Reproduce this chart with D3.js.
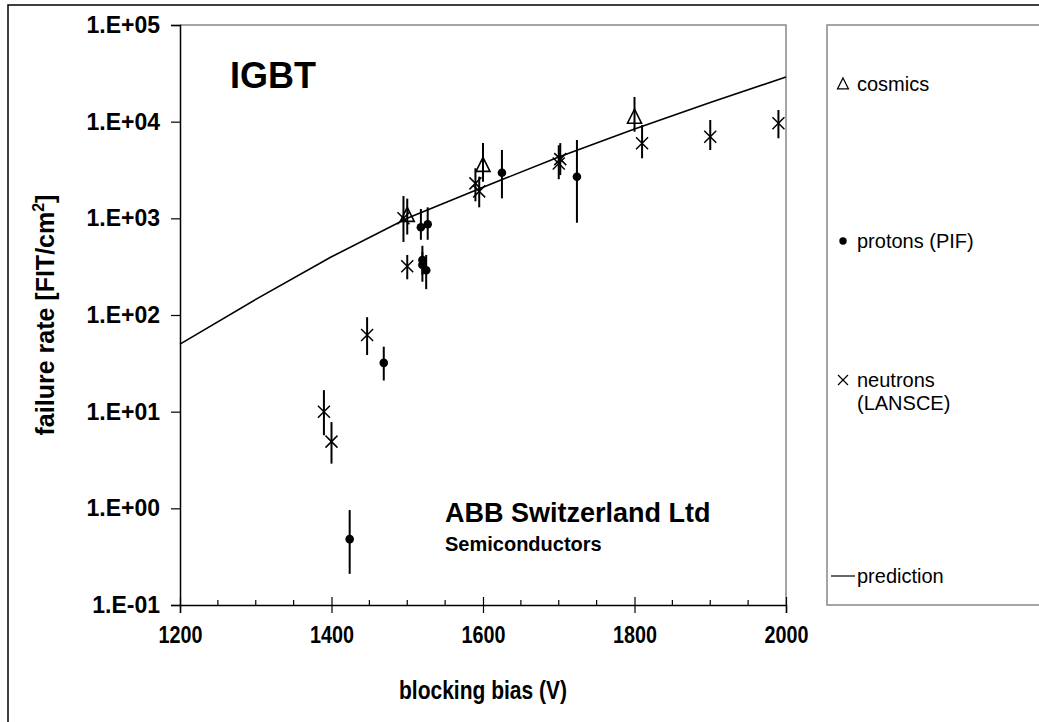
<!DOCTYPE html>
<html>
<head>
<meta charset="utf-8">
<script src="https://cdn.jsdelivr.net/npm/d3@7"></script>
<style>
  body { margin: 0; background: #fff; }
  text { font-family: "Liberation Sans", Arial, sans-serif; }
</style>
</head>
<body>
<div id="chart"></div>
<script>
// prediction curve
const predV = [1200, 1300, 1400, 1500, 1600, 1700, 1800, 1900, 2000];
const predRate = [50, 145, 400, 1000, 2100, 4300, 8400, 15800, 29000];

// cosmics
const cosV = [1500, 1600, 1800];
const cosRate = [1080, 3560, 11200];
const cosHi = [1600, 6000, 18000];
const cosLo = [680, 2390, 7870];

// protons (PIF)
const proV = [1424, 1469, 1518, 1520, 1520, 1525, 1527, 1625, 1724];
const proRate = [0.48, 32, 810, 370, 330, 290, 870, 2960, 2690];
const proHi = [0.96, 47, 1250, 520, 450, 418, 1300, 5100, 6460];
const proLo = [0.21, 21, 600, 260, 221, 185, 600, 1610, 900];

// neutrons (LANSCE)
const neuV = [1390, 1400, 1447, 1495, 1500, 1590, 1595, 1700, 1702, 1810, 1900, 1990];
const neuRate = [10, 4.9, 62, 1000, 320, 2300, 1900, 3700, 4100, 5970, 6980, 9620];
const neuHi = [16.7, 7.8, 95, 1700, 418, 3300, 2700, 5700, 6000, 9230, 10400, 13200];
const neuLo = [5.7, 2.9, 38.5, 570, 234, 1500, 1300, 2540, 2800, 4180, 5090, 6730];

const xTicks = [1200, 1400, 1600, 1800, 2000];
const xMinorTicks = d3.range(1250, 2000, 50).filter(v => v % 200 !== 0);
const yTicks = [0.1, 1, 10, 100, 1000, 10000, 100000];
const yTickLabels = ['1.E-01', '1.E+00', '1.E+01', '1.E+02', '1.E+03', '1.E+04', '1.E+05'];

const W = 1039, H = 722;
const plot = { left: 180, right: 786, top: 25, bottom: 605 };
const FONT = '"Liberation Sans", Arial, sans-serif';

const svg = d3.select('#chart').append('svg')
    .attr('width', W)
    .attr('height', H);

// outer frame (only top and left edges visible)
svg.append('path')
    .attr('d', `M8,${H} L8,5 L${W},5`)
    .attr('fill', 'none')
    .attr('stroke', '#000')
    .attr('stroke-width', 1.5);

const x = d3.scaleLinear().domain([1200, 2000]).range([plot.left, plot.right]);
const y = d3.scaleLog().domain([0.1, 100000]).range([plot.bottom, plot.top]);

// plot border top/right (gray)
svg.append('path')
    .attr('d', `M${plot.left},${plot.top} L${plot.right},${plot.top} L${plot.right},${plot.bottom}`)
    .attr('fill', 'none')
    .attr('stroke', '#888')
    .attr('stroke-width', 1.5);

// y axis
const yAxis = svg.append('g')
    .attr('transform', `translate(${plot.left},0)`)
    .call(d3.axisLeft(y).tickValues(yTicks).tickSize(9).tickPadding(11)
        .tickFormat((d, i) => yTickLabels[i]));
yAxis.select('.domain').attr('stroke', '#000').attr('stroke-width', 1.5);
yAxis.selectAll('.tick line').attr('stroke', '#000').attr('stroke-width', 1.2);
yAxis.selectAll('.tick text')
    .attr('font-size', '23px').attr('font-weight', 'bold').attr('fill', '#000')
    .attr('font-family', FONT);

// x axis
const xAxis = svg.append('g')
    .attr('transform', `translate(0,${plot.bottom})`)
    .call(d3.axisBottom(x).tickValues(xTicks).tickSize(8).tickPadding(14)
        .tickFormat(d3.format('d')));
xAxis.select('.domain').attr('stroke', '#000').attr('stroke-width', 1.5);
xAxis.selectAll('.tick line').attr('y1', -8).attr('stroke', '#000').attr('stroke-width', 1.2);
xAxis.selectAll('.tick text')
    .attr('font-size', '23px').attr('font-weight', 'bold').attr('fill', '#000')
    .attr('font-family', FONT)
    .attr('textLength', 44).attr('lengthAdjust', 'spacingAndGlyphs');

// minor x ticks (inside)
svg.append('g').selectAll('line')
    .data(xMinorTicks)
    .enter().append('line')
    .attr('x1', d => x(d)).attr('x2', d => x(d))
    .attr('y1', plot.bottom - 5).attr('y2', plot.bottom)
    .attr('stroke', '#000').attr('stroke-width', 1.2);

// axis titles
svg.append('text')
    .attr('x', (plot.left + plot.right) / 2)
    .attr('y', 699)
    .attr('text-anchor', 'middle')
    .attr('font-size', '25px').attr('font-weight', 'bold')
    .attr('textLength', 168).attr('lengthAdjust', 'spacingAndGlyphs')
    .text('blocking bias (V)');

const yTitle = svg.append('text')
    .attr('transform', `translate(54,${(plot.top + plot.bottom) / 2}) rotate(-90)`)
    .attr('text-anchor', 'middle')
    .attr('font-size', '25px').attr('font-weight', 'bold');
yTitle.append('tspan').text('failure rate [FIT/cm');
yTitle.append('tspan').text('2').attr('font-size', '16px').attr('dy', -10);
yTitle.append('tspan').text(']').attr('dy', 10);

// annotations
svg.append('text')
    .attr('x', 230).attr('y', 88)
    .attr('font-size', '36px').attr('font-weight', 'bold')
    .text('IGBT');
svg.append('text')
    .attr('x', 445).attr('y', 522)
    .attr('font-size', '27px').attr('font-weight', 'bold')
    .text('ABB Switzerland Ltd');
svg.append('text')
    .attr('x', 445).attr('y', 551)
    .attr('font-size', '20px').attr('font-weight', 'bold')
    .text('Semiconductors');

const chart = svg.append('g');

// prediction line
const line = d3.line().x(d => x(d[0])).y(d => y(d[1]));
chart.append('path')
    .datum(predV.map((v, i) => [v, predRate[i]]))
    .attr('d', line)
    .attr('fill', 'none')
    .attr('stroke', '#000')
    .attr('stroke-width', 1.6);

// error bars
function errorBars(vs, his, los) {
    chart.append('g').selectAll('line')
        .data(vs.map((v, i) => ({ v, hi: his[i], lo: los[i] })))
        .enter().append('line')
        .attr('x1', d => x(d.v)).attr('x2', d => x(d.v))
        .attr('y1', d => y(d.hi)).attr('y2', d => y(d.lo))
        .attr('stroke', '#000').attr('stroke-width', 2);
}
errorBars(cosV, cosHi, cosLo);
errorBars(proV, proHi, proLo);
errorBars(neuV, neuHi, neuLo);

// markers
const triangle = (s) => `M0,${-s * 0.55} L${s / 2},${s * 0.45} L${-s / 2},${s * 0.45} Z`;
const cross = (s) => `M${-s / 2},${-s / 2} L${s / 2},${s / 2} M${s / 2},${-s / 2} L${-s / 2},${s / 2}`;

chart.append('g').selectAll('path')
    .data(cosV.map((v, i) => [v, cosRate[i]]))
    .enter().append('path')
    .attr('transform', d => `translate(${x(d[0])},${y(d[1])})`)
    .attr('d', triangle(14))
    .attr('fill', 'none').attr('stroke', '#000').attr('stroke-width', 1.6);

chart.append('g').selectAll('circle')
    .data(proV.map((v, i) => [v, proRate[i]]))
    .enter().append('circle')
    .attr('cx', d => x(d[0])).attr('cy', d => y(d[1]))
    .attr('r', 4.3)
    .attr('fill', '#000');

chart.append('g').selectAll('path')
    .data(neuV.map((v, i) => [v, neuRate[i]]))
    .enter().append('path')
    .attr('transform', d => `translate(${x(d[0])},${y(d[1])})`)
    .attr('d', cross(12))
    .attr('fill', 'none').attr('stroke', '#000').attr('stroke-width', 1.5);

// legend box
const legend = svg.append('g');
legend.append('path')
    .attr('d', `M${W},25 L827,25 L827,605 L${W},605`)
    .attr('fill', 'none').attr('stroke', '#888').attr('stroke-width', 1.5);

legend.append('path')
    .attr('transform', 'translate(843,84)')
    .attr('d', triangle(11))
    .attr('fill', 'none').attr('stroke', '#000').attr('stroke-width', 1.2);
legend.append('text').attr('x', 857).attr('y', 91)
    .attr('font-size', '20px').text('cosmics');

legend.append('circle').attr('cx', 843).attr('cy', 241).attr('r', 3.7).attr('fill', '#000');
legend.append('text').attr('x', 857).attr('y', 248)
    .attr('font-size', '20px').text('protons (PIF)');

legend.append('path')
    .attr('transform', 'translate(843,380)')
    .attr('d', cross(10))
    .attr('fill', 'none').attr('stroke', '#000').attr('stroke-width', 1.2);
legend.append('text').attr('x', 857).attr('y', 387)
    .attr('font-size', '20px').text('neutrons');
legend.append('text').attr('x', 857).attr('y', 410)
    .attr('font-size', '20px').text('(LANSCE)');

legend.append('line')
    .attr('x1', 831).attr('x2', 855).attr('y1', 576).attr('y2', 576)
    .attr('stroke', '#000').attr('stroke-width', 1.2);
legend.append('text').attr('x', 857).attr('y', 583)
    .attr('font-size', '20px').text('prediction');
</script>
</body>
</html>
